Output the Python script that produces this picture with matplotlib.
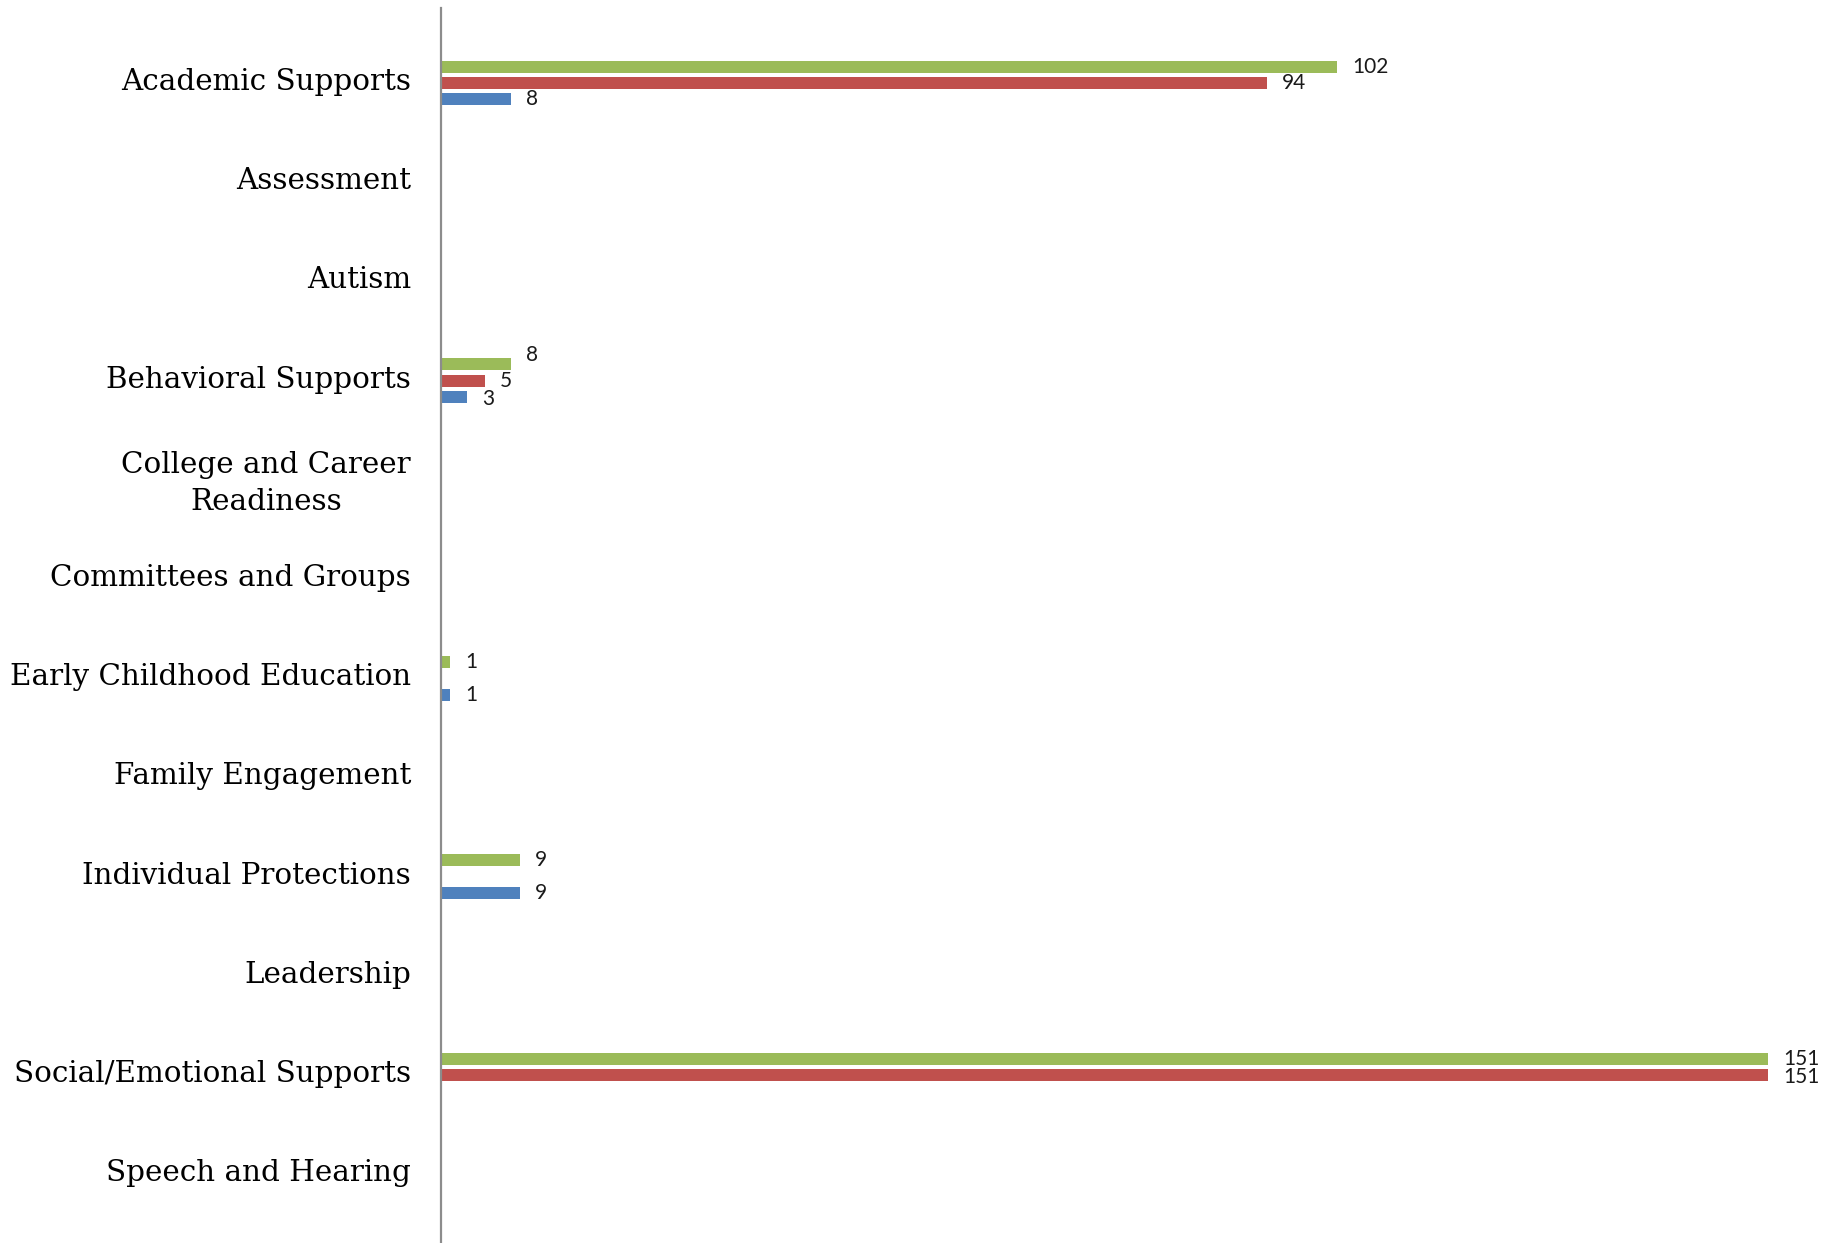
import numpy as np
import matplotlib
matplotlib.use("Agg")
import matplotlib.pyplot as plt
from matplotlib.transforms import ScaledTranslation

categories = ["Academic Supports", "Assessment", "Autism", "Behavioral Supports",
              "College and Career\nReadiness", "Committees and Groups",
              "Early Childhood Education", "Family Engagement",
              "Individual Protections", "Leadership",
              "Social/Emotional Supports", "Speech and Hearing"]
# series drawn top (green) to bottom (blue) within each category
green_vals = [102, 0, 0, 8, 0, 0, 1, 0, 9, 0, 151, 0]
red_vals   = [94, 0, 0, 5, 0, 0, 0, 0, 0, 0, 151, 0]
blue_vals  = [8, 0, 0, 3, 0, 0, 1, 0, 9, 0, 0, 0]

colors = {"green": "#9BBB59", "red": "#C0504D", "blue": "#4F81BD"}

W, H = 1839, 1243
DPI = 100
fig = plt.figure(figsize=(W / DPI, H / DPI), dpi=DPI)
ax_left = 441 / W
ax = fig.add_axes([ax_left, 0, 1 - ax_left, 1 - 8 / H])

px_per_unit = 8.788
cat_px = 99.2
first_px = 83
y = np.arange(len(categories))
pitch = 16.4 / cat_px
bh = 12 / cat_px

series = [("green", green_vals, -pitch), ("red", red_vals, 0.0), ("blue", blue_vals, pitch)]
nudges = {("green", 3): -9, ("red", 10): 2, ("blue", 3): 2}  # label nudges in px (down positive)

for name, vals, off in series:
    vals = np.array(vals, dtype=float)
    ax.barh(y + off, vals, height=bh, color=colors[name], edgecolor="none")
    for i, v in enumerate(vals):
        if v > 0:
            dy = nudges.get((name, i), 0)
            ax.annotate(f"{int(v)}", xy=(v, y[i] + off), xytext=(15 * 72 / DPI, -dy * 72 / DPI),
                        textcoords="offset points", ha="left", va="center",
                        fontsize=15, family=["Lato", "DejaVu Sans"], color="#1a1a1a")

ax.set_xlim(0, (W - 441) / px_per_unit)
ax.set_ylim((H - first_px) / cat_px, (8 - first_px) / cat_px)
ax.set_yticks(y)
ax.set_yticklabels(categories, family=["DejaVu Serif"], fontsize=21.2,
                   multialignment="center", linespacing=1.42)
ax.tick_params(axis="y", length=0, pad=30 * 72 / DPI)
shift = ScaledTranslation(0, 4 / DPI, fig.dpi_scale_trans)
for lab in ax.get_yticklabels():
    lab.set_transform(lab.get_transform() + shift)
ax.set_xticks([])
for s in ["top", "right", "bottom"]:
    ax.spines[s].set_visible(False)
ax.spines["left"].set_color("#8c8c8c")
ax.spines["left"].set_linewidth(1.6)
ax.patch.set_alpha(0)

fig.savefig("out.png", dpi=DPI)
